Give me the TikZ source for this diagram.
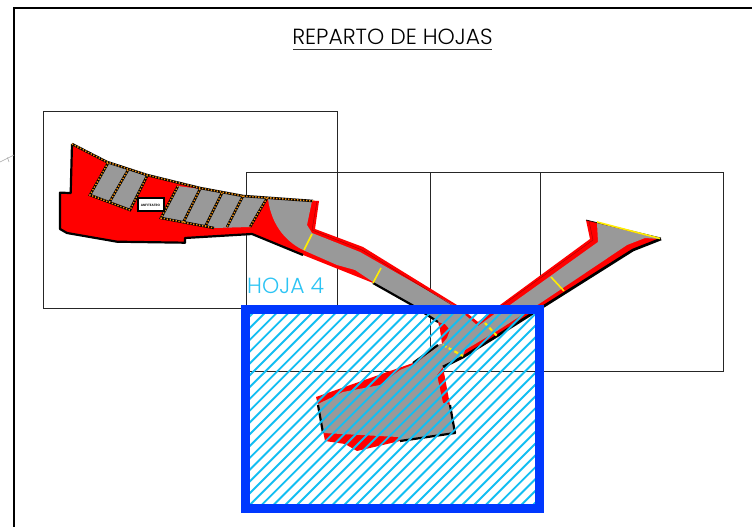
\documentclass[tikz,border=0pt]{standalone}
\usepackage{fontspec}
\setmainfont{Poppins Light}
\definecolor{hatchc}{HTML}{12BEF2}
\definecolor{framec}{HTML}{0038FF}
\definecolor{greyc}{HTML}{999999}
\definecolor{orangec}{HTML}{F09010}
\definecolor{labelc}{HTML}{2CC4F4}
\tikzset{
 sheet/.style={draw=black!85,line width=0.9bp},
 edgeb/.style={draw=black,line width=2.2bp,line join=round},
 lot/.style={draw=black,line width=2.5bp},
 lotdash/.style={draw=orangec,line width=1.5bp,dash pattern=on 1.3bp off 1.7bp},
 yel/.style={draw=yellow!95!orange,line width=1.6bp},
 yeld/.style={draw=yellow!95!orange,line width=2.1bp,dash pattern=on 4bp off 2.5bp},
 hatchline/.style={draw=hatchc,line width=1.9bp},
}
\begin{document}
\begin{tikzpicture}[x=1bp,y=-1bp]
\useasboundingbox (0,0) rectangle (752,527);
\fill[white] (0,0) rectangle (752,527);
% outer sheet frame
\draw[black,line width=1.3bp] (14,527) -- (14,8) -- (752,8);
\draw[black!35,line width=0.6bp] (0,162) -- (14,155) (7.5,157.5) -- (9,162);
% sheet rectangles
\draw[sheet] (43,111) rectangle (337,308);
\draw[sheet] (246,172) rectangle (540,371);
\draw[sheet] (430,172) rectangle (723,371);
% red silhouette
\fill[red] (72,144) -- (107,162) -- (147,175) -- (200,188) -- (243,196) -- (319,201) -- (315,229) -- (363,247) -- (457,305) -- (478,322) -- (500,305) -- (590,239) -- (586,220) -- (661,239) -- (633,250) -- (541,308) -- (497,336) -- (463,357) -- (443,367) -- (450,405) -- (455,433) -- (400,441) -- (357,451) -- (345,444) -- (325,441) -- (318,405) -- (316,397) -- (413,363) -- (438,345) -- (442,344) -- (440,330) -- (438,322) -- (412,305) -- (373,283) -- (303,255) -- (252,234) -- (185,238) -- (185,242.7) -- (117,241.7) -- (67,233) -- (60,229) -- (60,192.7) -- (70.7,193) -- cycle;
% grey parcels
\fill[greyc] (108,163) -- (147,176) -- (130,210) -- (90,195) -- cycle;
\fill[greyc] (178,186) -- (200,189) -- (222,193) -- (243,196) -- (267,198) -- (250,227) -- (214,228) -- (161,218) -- cycle;
% grey corridor and lower body
\fill[greyc] (268,199) -- (312,201) -- (307,225) -- (312,233) -- (360,252) -- (453,305) -- (470,319) -- (478,326) -- (500,310) -- (510,305) -- (598,242) -- (597,223) -- (660,239) -- (645,238) -- (627,245) -- (542,302) -- (497,331) -- (465,350) -- (463,356) -- (443,367) -- (437,375) -- (443,403) -- (450,405) -- (455,433) -- (400,441) -- (398,437) -- (323,433) -- (318,404) -- (343,392) -- (380,385) -- (400,370) -- (417,363) -- (438,345) -- (442,344) -- (447,338) -- (450,330) -- (445,324) -- (438,322) -- (412,305) -- (373,282) -- (355,270) -- (337,265) -- (303,250) .. controls (283,240) and (271,222) .. (268,199) -- cycle;
% thin dark lines along the red band
\draw[red!65!black,line width=0.4bp] (317,201) -- (312,230) -- (362,250) -- (455,307);
\draw[red!65!black,line width=0.4bp] (503,305) -- (593,240) -- (589,221);
% black boundaries
\draw[edgeb] (72,144) -- (70.7,193) -- (60,192.7) -- (60,229) -- (67,233) -- (117,241.7) -- (185,242.7) -- (185,238) -- (252,234) -- (303,255);
\draw[edgeb] (373,283) -- (412,305) -- (438,322);
\draw[edgeb] (438,345) -- (413,363);
\draw[edgeb,line width=2.7bp] (661,239) -- (633,250) -- (541,308) -- (497,336) -- (463,357) -- (443,367);
\draw[edgeb] (450,405) -- (455,433) -- (400,441);
\draw[edgeb] (323,433) -- (318,405);
\draw[black,line width=0.7bp] (586,220) -- (661,238);
% parcel lines, black under orange dashes
\draw[lot] (72,144) -- (107,162) -- (147,175) -- (200,188) -- (243,196) -- (313,201)
 (108,163) -- (90,195) -- (130,210) -- (147,176) (128,170) -- (109,203)
 (178,186) -- (161,218) -- (214,228) (200,189) -- (183,223) (222,193) -- (205,227) (243,196) -- (227,227) (267,198) -- (250,227);
\draw[lotdash] (72,144) -- (107,162) -- (147,175) -- (200,188) -- (243,196) -- (313,201)
 (108,163) -- (90,195) -- (130,210) -- (147,176) (128,170) -- (109,203)
 (178,186) -- (161,218) -- (214,228) (200,189) -- (183,223) (222,193) -- (205,227) (243,196) -- (227,227) (267,198) -- (250,227);
% building label
\node[draw=black,fill=white,line width=2bp,minimum width=26bp,minimum height=13bp,inner sep=0pt,font=\fontsize{3.2}{3.2}\selectfont] (lab) at (150.5,205) {\textbf{ANFITEATRO}};
% yellow section lines
\draw[yel] (312,234) -- (304,250);
\draw[yel] (381,268) -- (373,283);
\draw[yel] (551,277) -- (564,291);
\draw[yel] (597,222) -- (660,238.5);
\draw[yeld] (443,345) -- (463,356);
\draw[yeld] (485,323) -- (497,336);
% hatch
\begin{scope}
\clip (250,314) rectangle (535,503);
\foreach \c in {0,1,...,50}{
 \draw[hatchline] (240,{766.6+11.8*(\c-20)-240}) -- (560,{766.6+11.8*(\c-20)-560});
}
\end{scope}
% blue frame
\draw[framec,line width=9bp] (245.5,309.5) rectangle (539,508);
% texts
\node[font=\fontsize{22}{22}\selectfont,text=black,inner sep=0pt,anchor=base] (title) at (392.5,45) {REPARTO DE HOJAS};
\draw[black!80,line width=1bp] (293,50) -- (492,50);
\node[font=\fontsize{22}{22}\selectfont,text=labelc,inner sep=0pt,anchor=base west] (hoja) at (247,294) {HOJA 4};
\end{tikzpicture}
\end{document}
